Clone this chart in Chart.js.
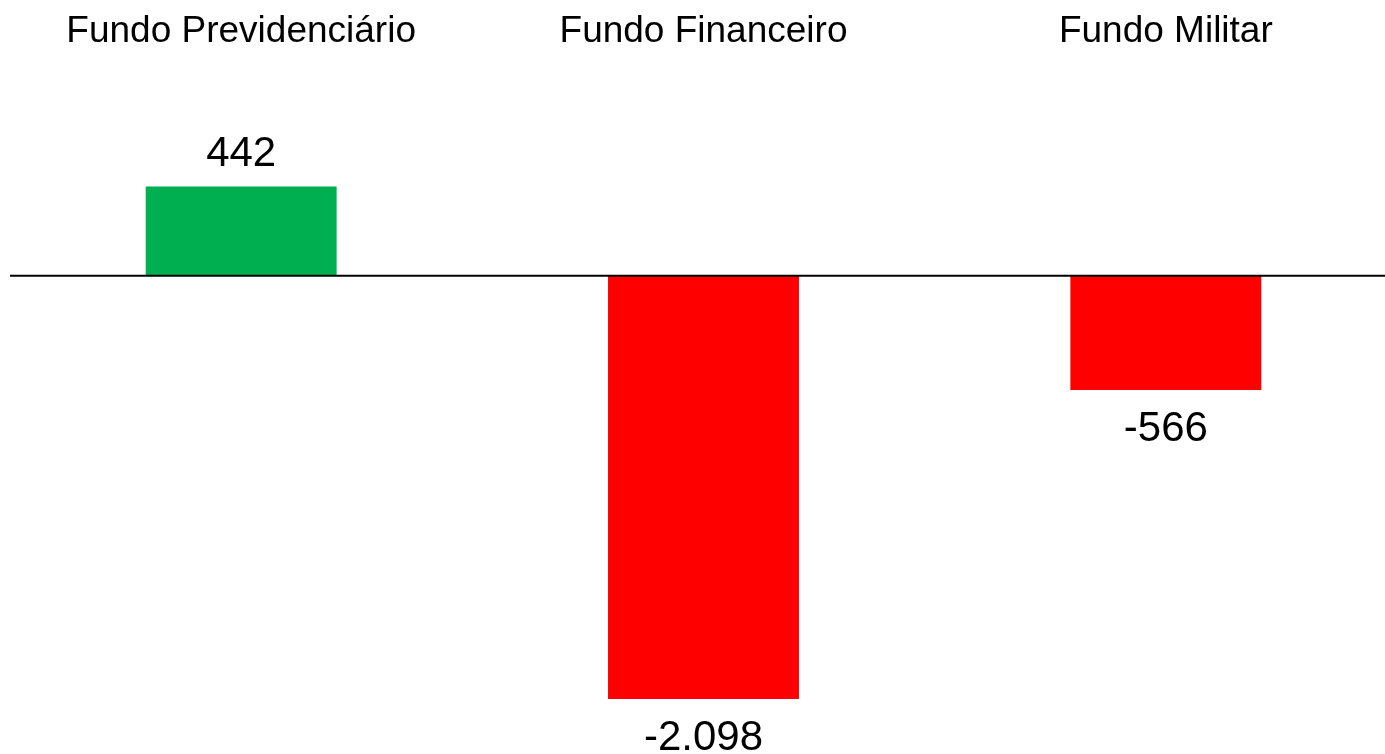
<!DOCTYPE html>
<html>
<head>
<meta charset="utf-8">
<script src="https://cdn.jsdelivr.net/npm/chart.js@4/dist/chart.umd.min.js"></script>
<style>
  html, body { margin: 0; padding: 0; background: #fff; overflow: hidden; }
  #wrap { width: 1397px; height: 754px; }
</style>
</head>
<body>
<div id="wrap"><canvas id="fundos"></canvas></div>
<script>
'use strict';

// data
var categories = ['Fundo Previdenciário', 'Fundo Financeiro', 'Fundo Militar'];
var resultado = [442, -2098, -566];
var barColors = ['#00B050', '#FF0000', '#FF0000'];

// 2098 -> "2.098"
function formatBR(v) {
  var s = String(Math.abs(v)).replace(/\B(?=(\d{3})+(?!\d))/g, '.');
  return (v < 0 ? '-' : '') + s;
}

var FONT = '"Liberation Sans", Arial, sans-serif';

// category names on top, value labels on the bars and the zero line
var labelsPlugin = {
  id: 'labels',
  afterDatasetsDraw: function(chart) {
    var ctx = chart.ctx;
    var area = chart.chartArea;
    var yScale = chart.scales.y;
    var meta = chart.getDatasetMeta(0);

    ctx.save();
    // zero line
    var y0 = yScale.getPixelForValue(0);
    ctx.strokeStyle = '#000';
    ctx.lineWidth = 2;
    ctx.beginPath();
    ctx.moveTo(area.left, y0);
    ctx.lineTo(area.right, y0);
    ctx.stroke();

    ctx.fillStyle = '#000';
    ctx.textAlign = 'center';
    ctx.textBaseline = 'alphabetic';

    meta.data.forEach(function(bar, i) {
      ctx.font = '37px ' + FONT;
      ctx.fillText(categories[i], bar.x, 42);

      ctx.font = '42px ' + FONT;
      var v = resultado[i];
      if (v >= 0) {
        ctx.fillText(formatBR(v), bar.x, bar.y - 21);
      } else {
        ctx.fillText(formatBR(v), bar.x, bar.y + 51);
      }
    });
    ctx.restore();
  }
};

function createFundosChart() {
  var ctx = document.getElementById('fundos');
  return new Chart(ctx, {
    type: 'bar',
    data: {
      labels: categories,
      datasets: [{
        data: resultado,
        backgroundColor: barColors,
        borderWidth: 0,
        categoryPercentage: 1,
        barPercentage: 0.413
      }]
    },
    options: {
      responsive: true,
      maintainAspectRatio: false,
      animation: false,
      layout: {
        padding: { left: 10, right: 0, top: 74, bottom: 0 }
      },
      plugins: {
        legend: { display: false },
        tooltip: { enabled: false }
      },
      scales: {
        x: { display: false },
        y: { display: false, min: -2370, max: 1000 }
      }
    },
    plugins: [labelsPlugin]
  });
}

createFundosChart();
</script>
</body>
</html>
